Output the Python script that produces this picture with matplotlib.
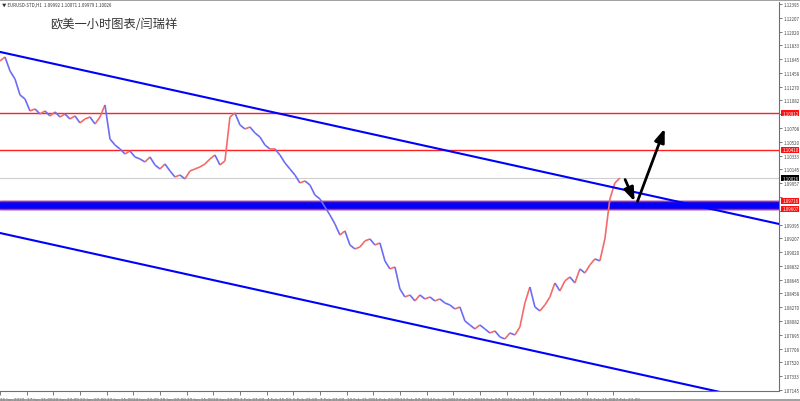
import numpy as np
import matplotlib
matplotlib.use('Agg')
from matplotlib import pyplot as plt
from matplotlib.collections import LineCollection
from matplotlib.lines import Line2D
import matplotlib.transforms as mtransforms

plt.rcParams['font.family'] = ['Noto Sans CJK SC', 'DejaVu Sans']

# H1 closes sampled every 6 bars (16 Jan 2020 -> 28 Feb 2020)
closes = [
    1.11620, 1.11674, 1.11484, 1.11375, 1.11158, 1.11103, 1.10940, 1.10967, 1.10899, 1.10940,
    1.10872, 1.10926, 1.10858, 1.10899, 1.10831, 1.10872, 1.10777, 1.10831, 1.10858, 1.10763,
    1.10858, 1.11022, 1.10559, 1.10477, 1.10423, 1.10355, 1.10396, 1.10314, 1.10287, 1.10246,
    1.10314, 1.10205, 1.10151, 1.10219, 1.10124, 1.10042, 1.10069, 1.10015, 1.10124, 1.10151,
    1.10178, 1.10219, 1.10287, 1.10341, 1.10205, 1.10260, 1.10858, 1.10913, 1.10750, 1.10695,
    1.10722, 1.10641, 1.10586, 1.10477, 1.10423, 1.10423, 1.10341, 1.10233, 1.10151, 1.10069,
    1.09961, 1.09988, 1.09933, 1.09797, 1.09743, 1.09634, 1.09525, 1.09403, 1.09253, 1.09308,
    1.09117, 1.09063, 1.09090, 1.09172, 1.09199, 1.09117, 1.09145, 1.08900, 1.08791, 1.08818,
    1.08519, 1.08410, 1.08437, 1.08356, 1.08437, 1.08383, 1.08410, 1.08356, 1.08383, 1.08328,
    1.08301, 1.08247, 1.08274, 1.08084, 1.08029, 1.07975, 1.08029, 1.07975, 1.07920, 1.07948,
    1.07866, 1.07839, 1.07920, 1.07893, 1.08002, 1.08328, 1.08546, 1.08274, 1.08220, 1.08301,
    1.08410, 1.08600, 1.08492, 1.08628, 1.08682, 1.08600, 1.08791, 1.08736, 1.08845, 1.08927,
    1.08900, 1.09199, 1.09743, 1.09961, 1.10026,
]
bar_step = 6

x_labels = ['16 Jan 2020', '17 Jan 15:00', '20 Jan 23:00', '22 Jan 07:00', '23 Jan 15:00',
            '24 Jan 23:00', '28 Jan 07:00', '29 Jan 15:00', '30 Jan 23:00', '3 Feb 07:00',
            '4 Feb 15:00', '5 Feb 23:00', '7 Feb 07:00', '10 Feb 15:00', '11 Feb 23:00',
            '13 Feb 07:00', '14 Feb 15:00', '17 Feb 23:00', '19 Feb 07:00', '20 Feb 15:00',
            '21 Feb 23:00', '25 Feb 07:00', '26 Feb 15:00', '27 Feb 23:00']
x_label_step = 32

y_tick_start = 1.07145
y_tick_step = 0.001875
y_tick_count = 29

resistance = [1.10912, 1.10410]
zone = (1.09607, 1.09716)
last_price = 1.10026
upper_channel = [(0, 1.11743), (935, 1.09403)]
lower_channel = [(0, 1.09280), (935, 1.06940)]
arrow_down = [(749, 1.10042), (763, 1.09675)]
arrow_up = [(764, 1.09675), (799, 1.10736)]

header = '\u25bc EURUSD-STD,H1  1.09992 1.10071 1.09979 1.10026'
title = '欧美一小时图表/闫瑞祥'

fig = plt.figure(figsize=(8, 4.02), dpi=100)
ax = fig.add_axes([0, 10 / 402, 779 / 800, 389 / 402])
ax.set_xlim(0, 935)
ax.set_ylim(1.07131, 1.12422)

# price line coloured by direction
xs = np.arange(len(closes)) * bar_step
pts = np.column_stack([xs, closes])
segs = np.stack([pts[:-1], pts[1:]], axis=1)
cols = ['#f46a6a' if b >= a else '#6c6cf4' for a, b in zip(closes[:-1], closes[1:])]
ax.add_collection(LineCollection(segs, colors=cols, linewidths=1.2, zorder=3))

# horizontal levels
ax.axhline(last_price, color='#cfcfcf', lw=0.8, zorder=1)
for lvl in resistance:
    ax.axhline(lvl, color='#ff2020', lw=1.0, zorder=2)
ax.axhspan(zone[0], zone[1], color='#0000ff', zorder=2)
ax.axhline(zone[0], color='#ff2020', lw=1.0, zorder=2)
ax.axhline(zone[1], color='#ff2020', lw=1.0, zorder=2)

# channel
for line in (upper_channel, lower_channel):
    ax.plot([line[0][0], line[1][0]], [line[0][1], line[1][1]], color='#0000ff', lw=1.5, zorder=4)

# arrows
for a in (arrow_down, arrow_up):
    ax.annotate('', xy=a[1], xytext=a[0],
                arrowprops=dict(arrowstyle='-|>,head_length=0.8,head_width=0.3',
                                color='black', lw=2), zorder=6)

# axes styling
for s in ['left', 'top']:
    ax.spines[s].set_visible(False)
for s in ['right', 'bottom']:
    ax.spines[s].set_color('#707070')
    ax.spines[s].set_linewidth(0.8)

# right price scale; labels hidden where a price box covers them
boxed = resistance + [zone[1], zone[0], last_price]
ax.yaxis.tick_right()
yt = [y_tick_start + k * y_tick_step for k in range(y_tick_count)]
ax.set_yticks(yt)
ax.set_yticklabels(['' if min(abs(v - b) for b in boxed) < 0.0006 else '%.5f' % v for v in yt])
ax.tick_params(axis='y', labelsize=3.2, labelcolor='#444444', length=2, width=0.5,
               color='#444444', pad=1)

xt = [k * x_label_step for k in range(len(x_labels))]
ax.set_xticks(xt)
ax.set_xticklabels(x_labels, ha='left', family=['Liberation Sans Narrow', 'DejaVu Sans'])
ax.tick_params(axis='x', labelsize=3.0, labelcolor='#444444', length=3, width=0.5,
               color='#444444', pad=1)

# price boxes on the right axis
trans = mtransforms.blended_transform_factory(ax.transAxes, ax.transData)
for lvl in resistance + [zone[1], zone[0]]:
    ax.text(1.004, lvl, '%.5f' % lvl, transform=trans, fontsize=3.2, color='white',
            va='center', ha='left', clip_on=False,
            bbox=dict(boxstyle='square,pad=0.15', fc='#ff1010', ec='none'))
ax.text(1.004, last_price, '%.5f' % last_price, transform=trans, fontsize=3.2, color='white',
        va='center', ha='left', clip_on=False,
        bbox=dict(boxstyle='square,pad=0.15', fc='black', ec='none'))

# texts
fig.text(0.003, 0.992, header, fontsize=3.2, color='#333333', va='top', ha='left')
fig.text(50 / 800, 1 - 25 / 402, title, fontsize=8.8, color='#333333', va='center', ha='left')

# frame lines
fig.add_artist(Line2D([0, 1], [1 - 0.5 / 402, 1 - 0.5 / 402], color='#909090', lw=1.2))
fig.add_artist(Line2D([0, 1], [1.5 / 402, 1.5 / 402], color='#909090', lw=1.2))

fig.savefig('out.png', dpi=100, facecolor='white')
